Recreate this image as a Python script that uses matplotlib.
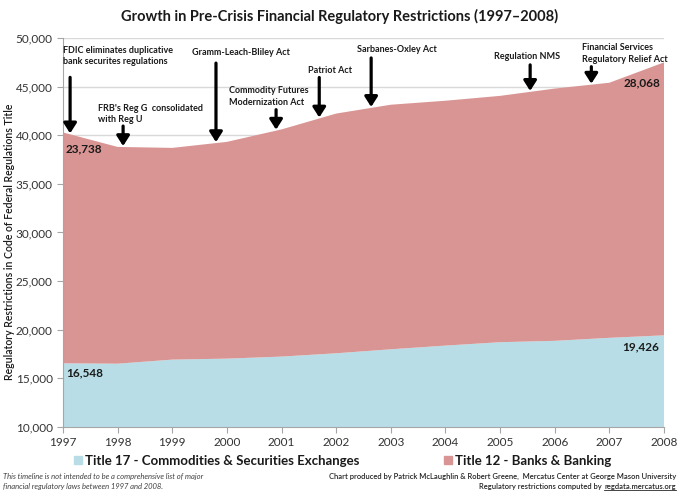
import numpy as np
import matplotlib
matplotlib.use('Agg')
from matplotlib import pyplot as plt
from matplotlib.patches import Patch

plt.rcParams['font.family'] = ['Lato', 'DejaVu Sans']

# 数据
years = np.arange(1997, 2009)
title17 = [16548, 16510, 16930, 17030, 17240, 17580, 17990, 18370, 18720, 18860, 19170, 19426]
title12 = [23738, 22290, 21770, 22290, 23360, 24650, 25150, 25180, 25330, 25940, 26230, 28068]

series_names = ['Title 17 - Commodities & Securities Exchanges', 'Title 12 - Banks & Banking']
event_years = [1997.13, 1998.1, 1999.8, 2000.9, 2001.69, 2002.64, 2005.55, 2006.67]
event_labels = [
    'FDIC eliminates duplicative\nbank securites regulations',
    "FRB's Reg G  consolidated\nwith Reg U",
    'Gramm-Leach-Bliley Act',
    'Commodity Futures\nModernization Act',
    'Patriot Act',
    'Sarbanes-Oxley Act',
    'Regulation NMS',
    'Financial Services\nRegulatory Relief Act',
]

# 箭头长度、文字偏移（像素）
arrow_len = [56, 20, 79, 20, 40, 49, 26, 17]
text_off = [(-7, 67, 'left'), (-25, 22, 'left'), (25, 85, 'center'), (-47, 23, 'left'),
            (11, 43, 'center'), (26, 53, 'center'), (-3, 30, 'center'), (-9, 20, 'left')]

c17 = '#b8dde6'
c12 = '#d99594'
dark = '#1a1a1a'

fig = plt.figure(figsize=(6.80, 4.92), dpi=100)
ax = fig.add_axes([63 / 680, 1 - 427 / 492, 601 / 680, 389 / 492])

ax.stackplot(years, title17, title12, colors=[c17, c12], zorder=2)
ax.set_xlim(1997, 2008)
ax.set_ylim(10000, 50000)
ax.set_xticks(years)
ax.set_yticks(np.arange(10000, 50001, 5000))
ax.yaxis.set_major_formatter(matplotlib.ticker.FuncFormatter(lambda v, p: f'{int(v):,}'))
ax.grid(axis='y', color='#d9d9d9', lw=1, zorder=0)
ax.set_axisbelow(True)
for s in ['top', 'right']:
    ax.spines[s].set_visible(False)
for s in ['left', 'bottom']:
    ax.spines[s].set_color('#a6a6a6')
ax.tick_params(axis='both', colors='#a6a6a6', labelcolor='#333333', labelsize=8.5, length=4)
ax.set_ylabel('Regulatory Restrictions in Code of Federal Regulations Title',
              fontsize=7.6, fontweight='semibold', color=dark)
ax.yaxis.set_label_coords(-0.08, 0.476)

fig.text(0.5, 1 - 16 / 492, 'Growth in Pre-Crisis Financial Regulatory Restrictions (1997\u20132008)',
         ha='center', va='center', fontsize=10.5, fontweight='bold', color=dark)

# 事件箭头和说明
totals = np.array(title17) + np.array(title12)
for i, yr in enumerate(event_years):
    tip = np.interp(yr, years, totals) + 100
    ax.annotate('', xy=(yr, tip), xytext=(0, arrow_len[i]), textcoords='offset pixels',
                arrowprops=dict(arrowstyle='-|>,head_length=0.5,head_width=0.32', lw=2.3,
                                color='black', shrinkA=0, shrinkB=0, mutation_scale=12),
                zorder=5)
    dx, dy, ha = text_off[i]
    ax.annotate(event_labels[i], xy=(yr, tip), xytext=(dx, dy), textcoords='offset pixels',
                ha=ha, va='bottom', fontsize=6.5, fontweight='bold', color=dark,
                linespacing=1.35, multialignment=ha)

# 数值标签
ax.annotate(f'{title12[0]:,}', xy=(years[0], totals[0]), xytext=(3, -16), textcoords='offset pixels',
            ha='left', va='center', fontsize=8.5, fontweight='bold', color=dark)
ax.annotate(f'{title17[0]:,}', xy=(years[0], title17[0]), xytext=(3, -10), textcoords='offset pixels',
            ha='left', va='center', fontsize=8.5, fontweight='bold', color=dark)
ax.annotate(f'{title12[-1]:,}', xy=(years[-1], totals[-1]), xytext=(-4, -20), textcoords='offset pixels',
            ha='right', va='center', fontsize=8.5, fontweight='bold', color=dark)
ax.annotate(f'{title17[-1]:,}', xy=(years[-1], title17[-1]), xytext=(-5, -12), textcoords='offset pixels',
            ha='right', va='center', fontsize=8.5, fontweight='bold', color=dark)

# 图例
handles = [Patch(color=c17), Patch(color=c12)]
fig.legend(handles, series_names, ncol=2, loc='center', bbox_to_anchor=(343 / 680, 1 - 461 / 492),
           frameon=False, prop={'size': 9.5, 'weight': 'bold'}, handlelength=0.55, handleheight=0.55,
           handletextpad=0.3, columnspacing=6.4, labelcolor=dark)

# 脚注
fig.text(3 / 680, 1 - 476 / 492, 'This timeline is not intended to be a comprehensive list of major',
         fontsize=5.5, style='italic', color='#404040', va='center')
fig.text(3 / 680, 1 - 487 / 492, 'financial regulatory laws between 1997 and 2008.',
         fontsize=5.5, style='italic', color='#404040', va='center')
fig.text(676 / 680, 1 - 476 / 492,
         'Chart produced by Patrick McLaughlin & Robert Greene,  Mercatus Center at George Mason University',
         fontsize=5.5, fontweight='semibold', color='#262626', va='center', ha='right')
t = fig.text(676 / 680, 1 - 487 / 492, 'regdata.mercatus.org',
             fontsize=5.5, fontweight='semibold', color='#262626', va='center', ha='right')
fig.canvas.draw()
bb = t.get_window_extent().transformed(fig.transFigure.inverted())
fig.text(bb.x0 - 0.004, 1 - 487 / 492, 'Regulatory restrictions computed by',
         fontsize=5.5, fontweight='semibold', color='#262626', va='center', ha='right')
fig.add_artist(plt.Line2D([bb.x0, bb.x1], [bb.y0 + 0.001, bb.y0 + 0.001], color='#262626',
                          lw=0.6, transform=fig.transFigure))

fig.savefig('out.png', dpi=100)
